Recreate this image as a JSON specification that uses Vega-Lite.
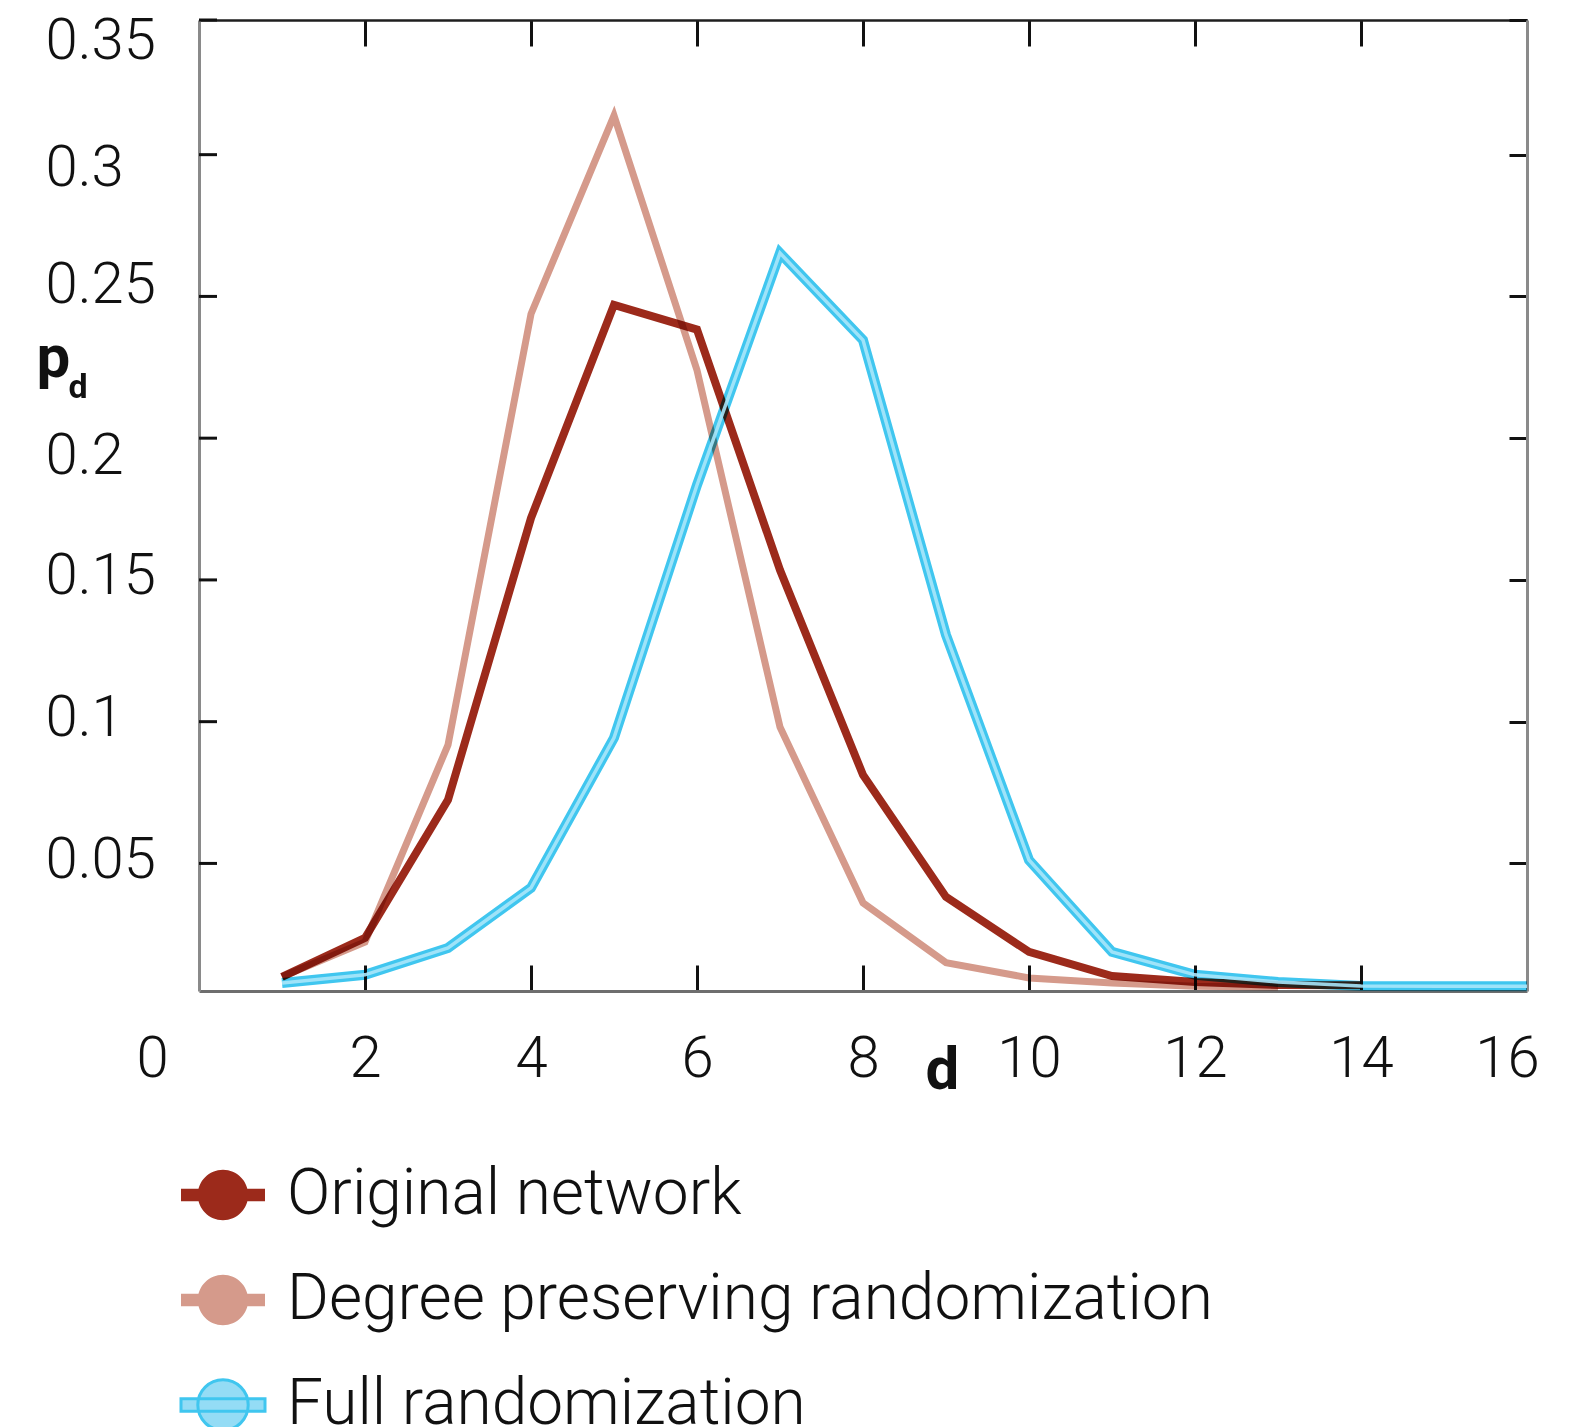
{
  "$schema": "https://vega.github.io/schema/vega-lite/v6.json",
  "width": 1328,
  "height": 971,
  "autosize": {"type": "none"},
  "padding": {"left": 199, "top": 20, "right": 49, "bottom": 436},
  "background": "white",
  "config": {
    "view": {"stroke": null},
    "font": "Roboto",
    "axis": {"grid": false}
  },
  "data": {
    "values": [
      {"d": 1, "p": 0.0100, "series": "Degree preserving randomization"},
      {"d": 2, "p": 0.0223, "series": "Degree preserving randomization"},
      {"d": 3, "p": 0.0918, "series": "Degree preserving randomization"},
      {"d": 4, "p": 0.2438, "series": "Degree preserving randomization"},
      {"d": 5, "p": 0.3138, "series": "Degree preserving randomization"},
      {"d": 6, "p": 0.2240, "series": "Degree preserving randomization"},
      {"d": 7, "p": 0.0981, "series": "Degree preserving randomization"},
      {"d": 8, "p": 0.0361, "series": "Degree preserving randomization"},
      {"d": 9, "p": 0.0150, "series": "Degree preserving randomization"},
      {"d": 10, "p": 0.0096, "series": "Degree preserving randomization"},
      {"d": 11, "p": 0.0078, "series": "Degree preserving randomization"},
      {"d": 12, "p": 0.0067, "series": "Degree preserving randomization"},
      {"d": 13, "p": 0.0064, "series": "Degree preserving randomization"},
      {"d": 1, "p": 0.0100, "series": "Original network"},
      {"d": 2, "p": 0.0237, "series": "Original network"},
      {"d": 3, "p": 0.0724, "series": "Original network"},
      {"d": 4, "p": 0.1718, "series": "Original network"},
      {"d": 5, "p": 0.2470, "series": "Original network"},
      {"d": 6, "p": 0.2383, "series": "Original network"},
      {"d": 7, "p": 0.1535, "series": "Original network"},
      {"d": 8, "p": 0.0812, "series": "Original network"},
      {"d": 9, "p": 0.0382, "series": "Original network"},
      {"d": 10, "p": 0.0188, "series": "Original network"},
      {"d": 11, "p": 0.0103, "series": "Original network"},
      {"d": 12, "p": 0.0082, "series": "Original network"},
      {"d": 13, "p": 0.0071, "series": "Original network"},
      {"d": 14, "p": 0.0070, "series": "Original network"},
      {"d": 1, "p": 0.0078, "series": "Full randomization"},
      {"d": 2, "p": 0.0107, "series": "Full randomization"},
      {"d": 3, "p": 0.0202, "series": "Full randomization"},
      {"d": 4, "p": 0.0414, "series": "Full randomization"},
      {"d": 5, "p": 0.0943, "series": "Full randomization"},
      {"d": 6, "p": 0.1835, "series": "Full randomization"},
      {"d": 7, "p": 0.2653, "series": "Full randomization"},
      {"d": 8, "p": 0.2346, "series": "Full randomization"},
      {"d": 9, "p": 0.1306, "series": "Full randomization"},
      {"d": 10, "p": 0.0512, "series": "Full randomization"},
      {"d": 11, "p": 0.0188, "series": "Full randomization"},
      {"d": 12, "p": 0.0107, "series": "Full randomization"},
      {"d": 13, "p": 0.0082, "series": "Full randomization"},
      {"d": 14, "p": 0.0068, "series": "Full randomization"},
      {"d": 15, "p": 0.0067, "series": "Full randomization"},
      {"d": 16, "p": 0.0067, "series": "Full randomization"}
    ]
  },
  "layer": [
    {
      "transform": [{"filter": "datum.series === 'Degree preserving randomization'"}],
      "mark": {"type": "line", "strokeWidth": 7, "strokeJoin": "miter", "strokeCap": "butt", "blend": "multiply"},
      "encoding": {
        "x": {
          "field": "d", "type": "quantitative",
          "scale": {"domain": [0, 16], "nice": false, "zero": false},
          "axis": {
            "orient": "bottom", "labels": false, "ticks": true, "tickSize": -26, "tickWidth": 3,
            "tickColor": "#111111", "values": [2, 4, 6, 8, 10, 12, 14],
            "domain": true, "domainColor": "#6e6e6e", "domainWidth": 3, "title": null
          }
        },
        "y": {
          "field": "p", "type": "quantitative",
          "scale": {"domain": [0.005, 0.3475], "nice": false, "zero": false},
          "axis": {
            "orient": "left", "labels": false, "ticks": false,
            "domain": true, "domainColor": "#8a8a8a", "domainWidth": 3, "title": null
          }
        },
        "color": {
          "field": "series", "type": "nominal",
          "scale": {
            "domain": ["Original network", "Degree preserving randomization", "Full randomization"],
            "range": ["#9c2a1b", "#d59a8b", "#40c6ef"]
          },
          "legend": {
            "title": null,
            "orient": "none",
            "legendX": -8,
            "legendY": 1143,
            "direction": "vertical",
            "padding": 0,
            "rowPadding": 41,
            "symbolType": "M-1,-0.15H1V0.15H-1Z M0.6,0 A0.6,0.6 0 1,1 -0.6,0 A0.6,0.6 0 1,1 0.6,0 Z",
            "symbolSize": 7056,
            "symbolStrokeWidth": 0,
            "labelOffset": 32,
            "labelFont": "Roboto",
            "labelFontSize": 64,
            "labelFontWeight": 300,
            "labelColor": "#111111",
            "labelLimit": 1200,
            "labelBaseline": "middle",
            "encode": {
              "symbols": {
                "update": {
                  "fill": {"signal": "datum.value === 'Full randomization' ? '#94dcf5' : scale('color', datum.value)"},
                  "stroke": {"signal": "scale('color', datum.value)"},
                  "strokeWidth": {"signal": "datum.value === 'Full randomization' ? 3 : 0"},
                  "opacity": {"value": 1}
                }
              }
            }
          }
        }
      }
    },
    {
      "transform": [{"filter": "datum.series === 'Original network'"}],
      "mark": {"type": "line", "strokeWidth": 8, "strokeJoin": "miter", "strokeCap": "butt", "blend": "multiply"},
      "encoding": {
        "x": {
          "field": "d", "type": "quantitative",
          "scale": {"domain": [0, 16], "nice": false, "zero": false},
          "axis": {
            "orient": "top", "labels": false, "ticks": true, "tickSize": -26, "tickWidth": 3,
            "tickColor": "#111111", "values": [2, 4, 6, 8, 10, 12, 14],
            "domain": true, "domainColor": "#1e1e1e", "domainWidth": 2.5,
            "title": "d", "titleX": -131, "titleY": 377, "titleAngle": 0, "titleAlign": "left",
            "titleBaseline": "alphabetic", "titleFontSize": 34, "titleFontWeight": "bold",
            "titleColor": "#111111", "titleFont": "Roboto"
          }
        },
        "y": {
          "field": "p", "type": "quantitative",
          "scale": {"domain": [0.005, 0.3475], "nice": false, "zero": false},
          "axis": {
            "orient": "right", "labels": false, "ticks": true, "tickSize": -18, "tickWidth": 3,
            "tickColor": "#111111", "values": [0.05, 0.1, 0.15, 0.2, 0.25, 0.3, 0.3475],
            "domain": true, "domainColor": "#8a8a8a", "domainWidth": 3, "title": null
          }
        },
        "color": {"field": "series", "type": "nominal"}
      }
    },
    {
      "transform": [{"filter": "datum.series === 'Full randomization'"}],
      "mark": {"type": "line", "strokeWidth": 10, "strokeJoin": "miter", "strokeCap": "butt", "blend": "multiply"},
      "encoding": {
        "x": {
          "field": "d", "type": "quantitative",
          "scale": {"domain": [0, 16], "nice": false, "zero": false},
          "axis": {
            "orient": "bottom", "domain": false, "ticks": false, "labels": true,
            "values": [0, 2, 4, 6, 8, 10, 12, 14, 16], "format": "d",
            "labelFlush": false, "labelOverlap": false, "labelBound": false,
            "labelFont": "Roboto", "labelFontSize": 58, "labelFontWeight": 300, "labelColor": "#111111",
            "labelBaseline": "middle", "labelPadding": 68,
            "labelOffset": {
              "condition": [
                {"test": "datum.value === 0", "value": -47},
                {"test": "datum.value === 16", "value": -20}
              ],
              "value": 0
            },
            "title": "d", "titleX": 743, "titleY": 97, "titleAlign": "center", "titleBaseline": "alphabetic",
            "titleFont": "Roboto", "titleFontSize": 60, "titleFontWeight": "bold", "titleColor": "#111111"
          }
        },
        "y": {
          "field": "p", "type": "quantitative",
          "scale": {"domain": [0.005, 0.3475], "nice": false, "zero": false},
          "axis": {
            "orient": "left", "domain": false, "ticks": false, "labels": true,
            "values": [0.05, 0.1, 0.15, 0.2, 0.25, 0.3, 0.3475], "format": "~g",
            "labelExpr": "datum.value > 0.34 ? '0.35' : datum.label",
            "labelFlush": false, "labelOverlap": false, "labelBound": false,
            "labelFont": "Roboto", "labelFontSize": 58, "labelFontWeight": 300, "labelColor": "#111111",
            "labelAlign": "left", "labelBaseline": "middle", "labelPadding": 154,
            "labelOffset": {
              "condition": [
                {"test": "datum.value > 0.34", "value": 21},
                {"test": "datum.value > 0.29 && datum.value < 0.31", "value": 14},
                {"test": "datum.value > 0.24 && datum.value < 0.26", "value": -11},
                {"test": "datum.value > 0.19 && datum.value < 0.21", "value": 18}
              ],
              "value": -3
            },
            "title": "p", "titleX": -163, "titleY": 356, "titleAngle": 0, "titleAlign": "left",
            "titleBaseline": "alphabetic", "titleFont": "Roboto", "titleFontSize": 60,
            "titleFontWeight": "bold", "titleColor": "#111111"
          }
        },
        "color": {"field": "series", "type": "nominal"}
      }
    },
    {
      "transform": [{"filter": "datum.series === 'Full randomization'"}],
      "mark": {"type": "line", "strokeWidth": 3.5, "strokeJoin": "miter", "strokeCap": "butt", "color": "#a8e6f9", "opacity": 0.9},
      "encoding": {
        "x": {"field": "d", "type": "quantitative", "scale": {"domain": [0, 16], "nice": false, "zero": false}, "axis": null},
        "y": {"field": "p", "type": "quantitative", "scale": {"domain": [0.005, 0.3475], "nice": false, "zero": false}, "axis": null}
      }
    },
    {
      "data": {"values": [
        {"tick": 0.05}, {"tick": 0.1}, {"tick": 0.15}, {"tick": 0.2},
        {"tick": 0.25}, {"tick": 0.3}, {"tick": 0.3475}
      ]},
      "mark": {"type": "rule", "color": "#111111", "strokeWidth": 3},
      "encoding": {
        "x": {"datum": 0, "type": "quantitative", "axis": null},
        "x2": {"datum": 0.217},
        "y": {"field": "tick", "type": "quantitative", "axis": null}
      }
    }
  ],
  "resolve": {"axis": {"x": "independent", "y": "independent"}}
}
